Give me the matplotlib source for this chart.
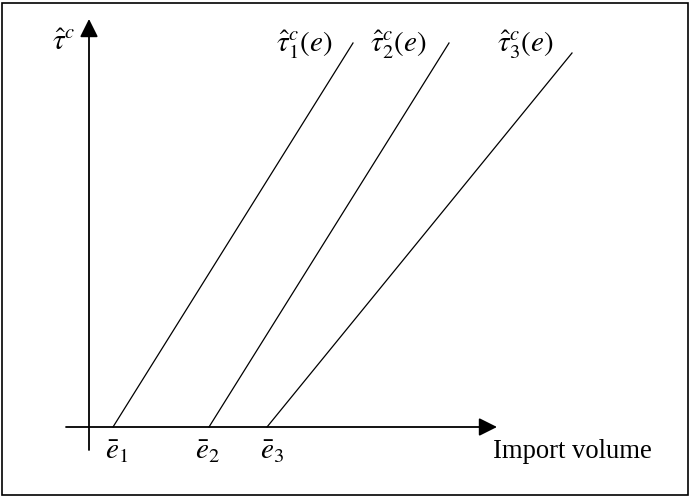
import matplotlib.pyplot as plt
from matplotlib.patches import Rectangle

plt.rcParams['mathtext.fontset'] = 'stix'

# intercepts on the import-volume axis (distance from origin)
e_bar = [24, 120, 178]
e_labels = [r'$\bar{e}_1$', r'$\bar{e}_2$', r'$\bar{e}_3$']
# upper end of each tariff line
x_top = [264, 360, 483]
y_top = [384, 384, 374]
curve_labels = [r'$\hat{\tau}_1^c(e)$', r'$\hat{\tau}_2^c(e)$', r'$\hat{\tau}_3^c(e)$']

fig = plt.figure(figsize=(6.9, 4.96), dpi=100)
ax = fig.add_axes([0, 0, 1, 1])
ax.set_xlim(-89, 601)
ax.set_ylim(-69, 427)
ax.axis('off')

fig.patches.append(Rectangle((1.5 / 690, 1.5 / 496), 686 / 690, 492 / 496,
                             transform=fig.transFigure, fill=False,
                             edgecolor='black', lw=1.2))

# axes with arrow heads
head = dict(arrowstyle='-|>,head_length=1.1,head_width=0.55', color='black',
            lw=1.3, shrinkA=0, shrinkB=0)
ax.annotate('', xy=(0, 408), xytext=(0, -23), arrowprops=head)
ax.annotate('', xy=(408, 0), xytext=(-23, 0), arrowprops=head)

for e, xt, yt in zip(e_bar, x_top, y_top):
    ax.plot([e, xt], [0, yt], color='black', lw=0.9)

ax.text(-14, 385, r'$\hat{\tau}^c$', fontsize=21, ha='right', va='center')

lab_x = [187, 281, 408]
for lx, lab in zip(lab_x, curve_labels):
    ax.text(lx, 382, lab, fontsize=21, ha='left', va='center')

lab_ex = [28, 119, 183]
for lx, lab in zip(lab_ex, e_labels):
    ax.text(lx, -24, lab, fontsize=21, ha='center', va='center')

ax.text(404, -25, 'Import volume', fontsize=19.2, family='Liberation Serif',
        ha='left', va='center')

fig.savefig('out.png', dpi=100)
